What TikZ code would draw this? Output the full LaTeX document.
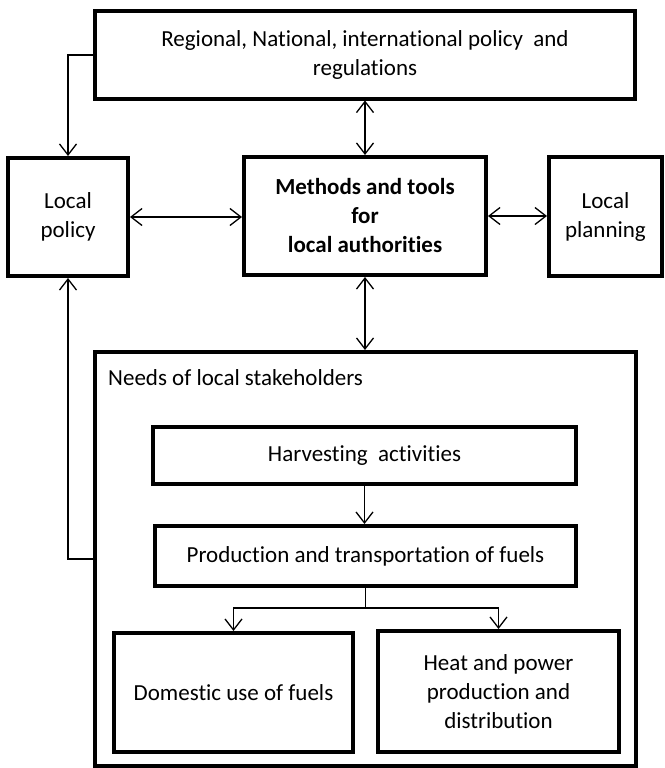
\documentclass[tikz,border=0pt]{standalone}
\usepackage{fontspec}
\setmainfont[Ligatures={NoCommon}]{Carlito}
\usetikzlibrary{arrows.meta}
\begin{document}
\begin{tikzpicture}[x=1pt,y=-1pt,
  txt/.style={font=\fontsize{23}{29}\selectfont},
  box/.style={draw=black,line width=4pt,inner sep=0pt,align=center,txt},
  link/.style={draw=black,line width=1.3pt},
  arr/.style={link,-{Straight Barb[length=11pt,width=17pt,line width=1.3pt]}},
  biarr/.style={link,{Straight Barb[length=11pt,width=17pt,line width=1.3pt]}-{Straight Barb[length=11pt,width=17pt,line width=1.3pt]}}]
\useasboundingbox (0,0) rectangle (664,768);

% upper row
\node[box,minimum width=540pt,minimum height=87pt] (reg) at (365,55)
  {Regional, National, international policy~ and\\regulations};
\node[box,minimum width=120pt,minimum height=118pt] (lp) at (68,217)
  {Local\\policy};
\node[box,minimum width=242pt,minimum height=118pt,
  font=\fontsize{23}{29}\selectfont\bfseries] (meth) at (365,216)
  {Methods and tools\\for\\local authorities};
\node[box,minimum width=113pt,minimum height=119pt] (plan) at (605.5,216.5)
  {Local\\planning};

% stakeholder frame and its contents
\node[box,minimum width=541pt,minimum height=414pt] (needs) at (365.5,559) {};
\node[anchor=west,inner sep=0pt,txt] (needslbl)
  at (108,378) {Needs of local stakeholders};
\node[box,minimum width=423pt,minimum height=57pt] (harv) at (364.5,455.5)
  {Harvesting~ activities};
\node[box,minimum width=421pt,minimum height=60pt] (prod) at (365.5,556)
  {Production and transportation of fuels};
\node[box,minimum width=239pt,minimum height=119pt] (dom) at (233.5,692.5)
  {Domestic use of fuels};
\node[box,minimum width=241pt,minimum height=121pt] (heat) at (498.5,691.5)
  {Heat and power\\production and\\distribution};

% connectors
\draw[arr] (reg.west) -| (lp.north);
\draw[biarr] (reg.south) -- (meth.north);
\draw[biarr] (lp.east) -- (lp.east -| meth.west);
\draw[biarr] (meth.east) -- (meth.east -| plan.west);
\draw[biarr] (meth.south) -- (meth.south |- needs.north);
\draw[arr] (needs.west) -| (lp.south);
\draw[arr] (harv.south) -- (harv.south |- prod.north);
\coordinate (split) at (prod.south |- 0,608);
\draw[link] (prod.south) -- (split);
\draw[arr] (split) -| (dom.north);
\draw[arr] (split) -| (heat.north);
\end{tikzpicture}
\end{document}
